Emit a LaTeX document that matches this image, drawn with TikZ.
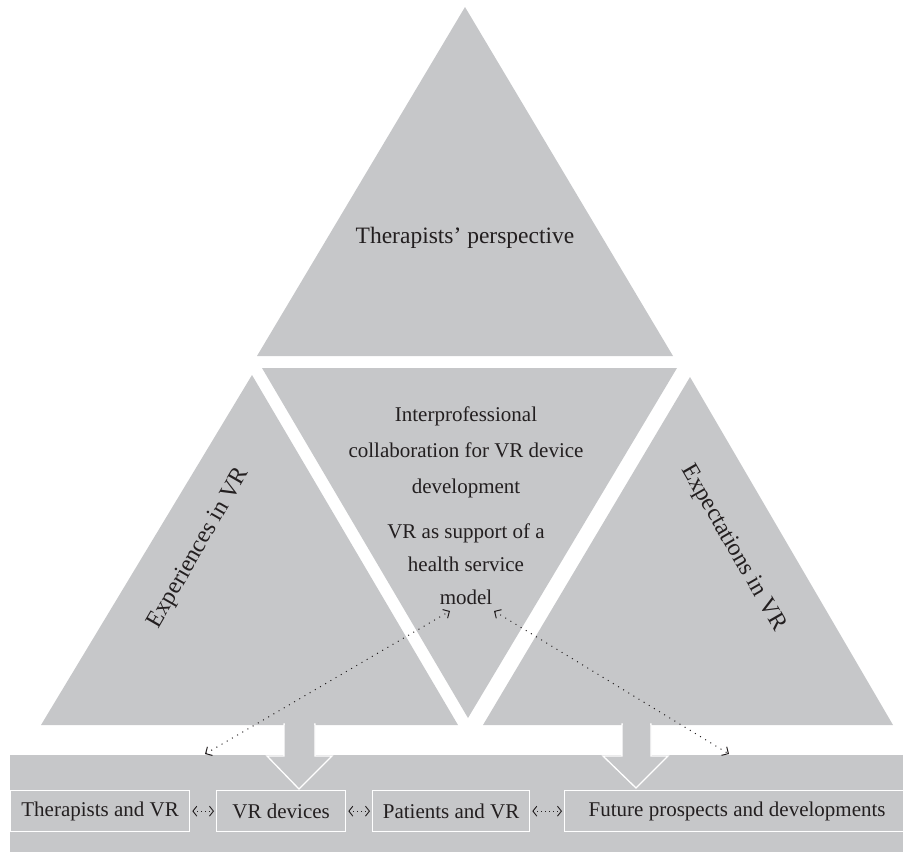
\documentclass[tikz,border=0pt]{standalone}
\usepackage{fontspec}
\setmainfont{Liberation Serif}
\usetikzlibrary{arrows.meta}
\definecolor{panel}{RGB}{198,199,201}
\definecolor{ink}{RGB}{35,31,32}
\begin{document}
\begin{tikzpicture}[x=1pt,y=-1pt,
  txt/.style={text=ink,font=\fontsize{21}{35}\selectfont,align=center,inner sep=0pt},
  boxn/.style={draw=white,line width=1.3pt,fill=panel,text=ink,font=\fontsize{21}{25}\selectfont,inner sep=0pt,minimum height=41pt,anchor=north west},
  blockarrow/.style={fill=panel,draw=white,line width=1.3pt},
  dots/.style={ink,line width=1pt,dash pattern=on 1pt off 5pt,{Straight Barb[length=5pt,width=10pt]}-{Straight Barb[length=5pt,width=10pt]}},
  sdots/.style={ink,line width=0.9pt,dash pattern=on 1pt off 3pt,{Straight Barb[length=4pt,width=10pt]}-{Straight Barb[length=4pt,width=10pt]},shorten <=2pt,shorten >=2pt}]
\useasboundingbox (0,0) rectangle (903,854);
% triangles
\fill[panel] (465,7) -- (673,356) -- (257,356) -- cycle;
\fill[panel] (262,368) -- (677,368) -- (468,718) -- cycle;
\fill[panel] (252,375) -- (458,725) -- (41,725) -- cycle;
\fill[panel] (690,377) -- (893,725) -- (483,725) -- cycle;
% band
\fill[panel] (10,755) rectangle (903,852);
% block arrows
\draw[blockarrow] (284,724) -- (315,724) -- (315,756) -- (332,756) -- (299,789) -- (267,756) -- (284,756) -- cycle;
\draw[blockarrow] (622,724) -- (651,724) -- (651,756) -- (668,756) -- (636,788) -- (603,756) -- (622,756) -- cycle;
\fill[panel] (284.7,720) rectangle (314.3,757);
\fill[panel] (622.7,720) rectangle (650.3,757);
% boxes
\node[boxn,minimum width=179pt] (b1) at (10,790) {Therapists and VR};
\node[boxn,minimum width=129pt] (b2) at (216,790) {VR devices};
\node[boxn,minimum width=157pt] (b3) at (372,790) {Patients and VR};
\node[boxn,minimum width=345pt] (b4) at (564,790) {Future prospects and developments};
\draw[sdots] (b1.east) -- (b2.west);
\draw[sdots] (b2.east) -- (b3.west);
\draw[sdots] (b3.east) -- (b4.west);
% texts
\node[txt,font=\fontsize{23.5}{28}\selectfont] (top) at (465,238) {Therapists’ perspective};
\node[txt,font=\fontsize{21}{36}\selectfont] (inter) at (466,452) {Interprofessional\\collaboration for VR device\\development};
\node[txt,font=\fontsize{21}{33}\selectfont] (vrs) at (466,564) {VR as support of a\\health service\\model};
\node[txt,font=\fontsize{24}{28}\selectfont,rotate=60] (exp) at (199,548) {Experiences in VR};
\node[txt,font=\fontsize{24}{28}\selectfont,rotate=-60] (expt) at (733,548) {Expectations in VR};
% dotted arrows
\coordinate (l1) at (450,611);
\coordinate (l2) at (205,754);
\coordinate (r1) at (494,611);
\coordinate (r2) at (729,754);
\draw[dots] (l2) -- (l1);
\draw[dots] (r1) -- (r2);
\end{tikzpicture}
\end{document}
